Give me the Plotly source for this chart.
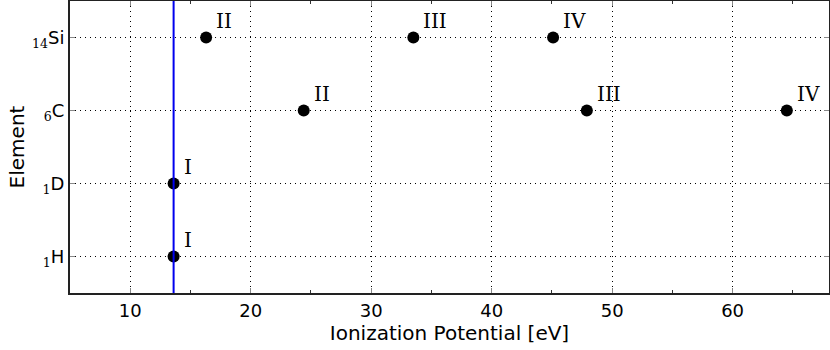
import plotly.graph_objects as go

elements = ["H", "D", "C", "Si"]
atomic_numbers = [1, 1, 6, 14]
ion_element = ["H", "D", "C", "C", "C", "Si", "Si", "Si"]
ion_energy = [13.6, 13.6, 24.4, 47.9, 64.5, 16.3, 33.5, 45.1]
ion_stage = ["I", "I", "II", "III", "IV", "II", "III", "IV"]
h_line = 13.6

serif = "DejaVu Serif"
tick_text = [
    f"<sub><span style='font-family:{serif}'>{z}</span></sub>{el}"
    for z, el in zip(atomic_numbers, elements)
]
y_pos = [elements.index(e) for e in ion_element]

fig = go.Figure()
fig.add_trace(
    go.Scatter(
        x=ion_energy,
        y=y_pos,
        mode="markers",
        marker=dict(color="black", size=12),
        hoverinfo="skip",
    )
)
for x, y, s in zip(ion_energy, y_pos, ion_stage):
    fig.add_annotation(
        x=x, y=y, text=s, showarrow=False,
        xanchor="left", yanchor="bottom", xshift=8, yshift=3,
        font=dict(family=serif, size=20, color="black"),
    )
fig.add_vline(x=h_line, line=dict(color="#0000ee", width=2))

axis_common = dict(
    showline=True, linecolor="#222", linewidth=2, mirror="ticks",
    ticks="inside", ticklen=5, tickcolor="#888", tickwidth=1,
    showgrid=True, gridcolor="black", griddash="1px,4px", gridwidth=1,
    zeroline=False, automargin=False,
    tickfont=dict(family="DejaVu Sans", size=18, color="black"),
)
fig.update_xaxes(
    **axis_common,
    range=[5, 68], tickvals=[10, 20, 30, 40, 50, 60],
    minor=dict(ticks="inside", ticklen=3, tickcolor="#333", dtick=5, tick0=0, showgrid=False),
    title=dict(text="Ionization Potential [eV]", standoff=4,
               font=dict(family="DejaVu Sans", size=20, color="black")),
)
fig.update_yaxes(
    **axis_common,
    range=[-0.5, 3.5], tickvals=list(range(len(elements))), ticktext=tick_text,
    title=dict(text="Element", standoff=2,
               font=dict(family="DejaVu Sans", size=20, color="black")),
)
fig.update_layout(
    width=830, height=350,
    margin=dict(l=70, r=1, t=1, b=57),
    paper_bgcolor="white", plot_bgcolor="white",
    showlegend=False,
)
fig.write_html(
    "out.html",
    config={"displayModeBar": False},
    post_script="document.body.style.margin='0';document.body.style.overflow='hidden';",
)
